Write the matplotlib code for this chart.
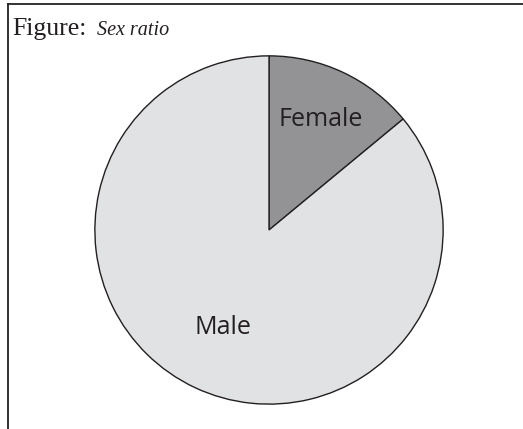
import matplotlib
matplotlib.use("Agg")
import numpy as np
import matplotlib.pyplot as plt
from matplotlib.lines import Line2D

labels = ["Female", "Male"]
shares = [14, 86]
colors = ["#939396", "#e1e2e4"]
label_dist = [0.70, 0.62]

W, H = 523, 429
fig = plt.figure(figsize=(W / 100, H / 100), dpi=100)

# frame: top rule and left rule only
fig.add_artist(Line2D([7.5 / W, 1], [1 - 4 / H, 1 - 4 / H], color="#222222",
                      linewidth=1.3, transform=fig.transFigure))
fig.add_artist(Line2D([7.5 / W, 7.5 / W], [0, 1 - 4 / H], color="#222222",
                      linewidth=1.3, transform=fig.transFigure))

fig.text(12 / W, 1 - 35 / H, "Figure:", fontsize=18.5, family="Liberation Serif",
         color="#231f20", va="baseline")
fig.text(97 / W, 1 - 35 / H, "Sex ratio", fontsize=14.5, family="Liberation Serif",
         style="italic", color="#231f20", va="baseline")

ax = fig.add_axes([94 / W, 24 / H, 350 / W, 350 / H])
wedges, _ = ax.pie(shares, colors=colors, startangle=90, counterclock=False,
                   wedgeprops=dict(edgecolor="#231f20", linewidth=1.0))
for w, lab, d in zip(wedges, labels, label_dist):
    mid = np.deg2rad((w.theta1 + w.theta2) / 2)
    ax.text(d * np.cos(mid), d * np.sin(mid), lab, ha="center", va="center",
            fontsize=18, family="Open Sans", color="#231f20")
ax.set_xlim(-1.005, 1.005)
ax.set_ylim(-1.005, 1.005)
ax.set_aspect("equal")
ax.axis("off")

fig.savefig("out.png", dpi=100)
